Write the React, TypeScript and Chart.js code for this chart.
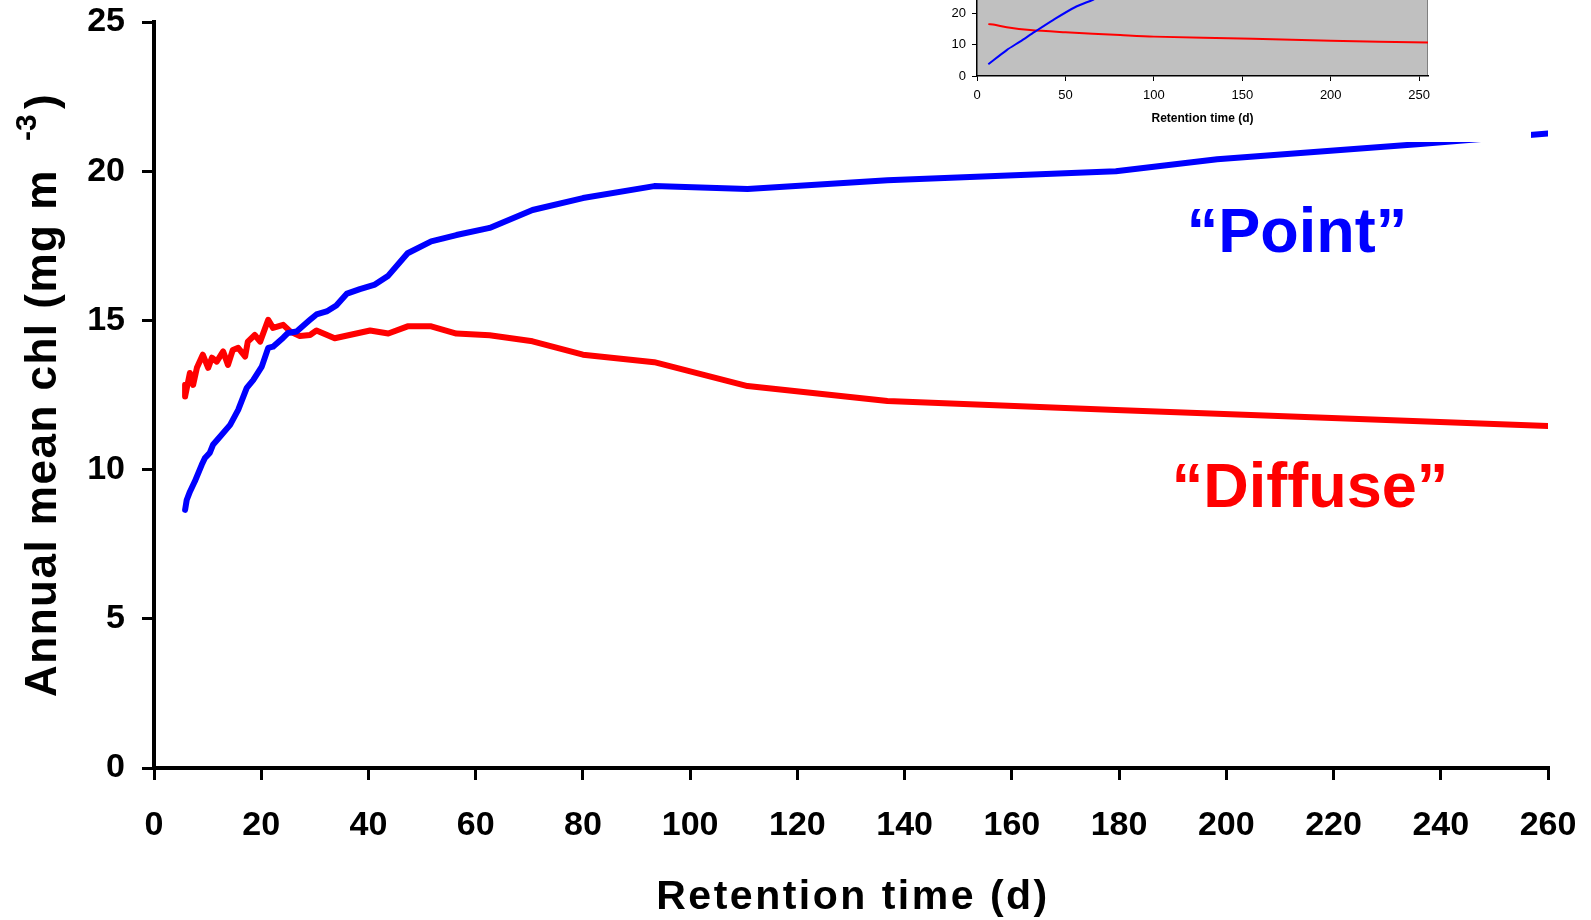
import React, { useEffect, useRef } from 'react';
import { Chart, registerables } from 'chart.js';

Chart.register(...registerables);

const FONT = "'Liberation Sans', Arial, Helvetica, sans-serif";

// ---- Main chart data ----
const pointDays = [5.8, 6.1, 6.7, 7.6, 8.9, 9.5, 10.4, 11.0, 12.3, 14.2, 15.7, 17.3, 18.5, 20.1, 21.3, 22.2, 24.1, 25.0, 26.6, 29.1, 30.3, 32.2, 34.0, 36.0, 38.4, 41.2, 43.7, 47.3, 51.7, 56.4, 62.6, 70.6, 80.0, 93.3, 110.7, 136.8, 179.4, 198.3, 235.6, 260];
const pointChl = [8.65, 8.98, 9.26, 9.6, 10.16, 10.39, 10.56, 10.83, 11.1, 11.5, 12.0, 12.74, 13.0, 13.45, 14.08, 14.12, 14.42, 14.58, 14.63, 15.02, 15.2, 15.3, 15.5, 15.9, 16.05, 16.2, 16.5, 17.25, 17.65, 17.86, 18.1, 18.7, 19.1, 19.5, 19.4, 19.7, 20.0, 20.4, 20.9, 21.26];

const diffuseDays = [5.8, 5.8, 6.7, 7.3, 8.0, 9.1, 10.1, 10.8, 11.7, 12.9, 13.8, 14.7, 15.7, 17.0, 17.5, 18.8, 19.8, 21.3, 22.2, 24.1, 25.4, 27.2, 29.1, 30.3, 33.7, 40.3, 43.7, 47.3, 51.7, 56.4, 62.6, 70.6, 80.0, 93.3, 110.7, 136.8, 179.4, 260];
const diffuseChl = [12.84, 12.45, 13.24, 12.84, 13.41, 13.85, 13.41, 13.75, 13.62, 13.96, 13.51, 14.01, 14.08, 13.79, 14.29, 14.51, 14.29, 15.02, 14.75, 14.85, 14.63, 14.48, 14.51, 14.66, 14.4, 14.66, 14.56, 14.8, 14.8, 14.56, 14.5, 14.3, 13.85, 13.6, 12.8, 12.3, 12.0, 11.46];

const mainXTicks = [0, 20, 40, 60, 80, 100, 120, 140, 160, 180, 200, 220, 240, 260];
const mainYTicks = [0, 5, 10, 15, 20, 25];

// ---- Inset chart data ----
const insetPointDays = [6.4, 16.8, 24.3, 32.8, 43, 55.4, 65.6, 70];
const insetPointChl = [3.75, 8.3, 11.0, 14.2, 17.9, 22.0, 24.4, 25.6];
const insetDiffuseDays = [6.4, 10, 16.8, 30, 50, 81, 100, 156, 200, 255];
const insetDiffuseChl = [16.6, 16.4, 15.6, 14.7, 14.0, 13.1, 12.6, 11.9, 11.3, 10.7];

const insetXTicks = [0, 50, 100, 150, 200, 250];
const insetYTicks = [0, 10, 20, 30, 40];

// ---- Texts ----
const xTitle = 'Retention time (d)';
const yTitleMain = 'Annual mean chl (mg m';
const yTitleSup = '-3';
const yTitleEnd = ')';
const pointLabel = '\u201CPoint\u201D';
const diffuseLabel = '\u201CDiffuse\u201D';
const insetXTitle = 'Retention time (d)';

const BLUE = '#0000ff';
const RED = '#ff0000';

const toXY = (xs: number[], ys: number[]) => xs.map((x, i) => ({ x, y: ys[i] }));

const mainTextPlugin = {
  id: 'mainText',
  afterDraw(chart: any) {
    const ctx = chart.ctx as CanvasRenderingContext2D;
    const xs = chart.scales.x;
    const ys = chart.scales.y;
    ctx.save();
    ctx.fillStyle = '#000';
    // X title
    ctx.font = `bold 41px ${FONT}`;
    (ctx as any).letterSpacing = '2.5px';
    ctx.textAlign = 'center';
    ctx.textBaseline = 'alphabetic';
    ctx.fillText(xTitle, 853, 909);
    // Y title
    ctx.save();
    ctx.translate(56, 697);
    ctx.rotate(-Math.PI / 2);
    ctx.textAlign = 'left';
    ctx.font = `bold 44px ${FONT}`;
    (ctx as any).letterSpacing = '1.5px';
    ctx.fillText(yTitleMain, 0, 0);
    (ctx as any).letterSpacing = '0px';
    ctx.font = `bold 30px ${FONT}`;
    ctx.fillText(yTitleSup, 556, -20);
    ctx.font = `bold 44px ${FONT}`;
    ctx.fillText(yTitleEnd, 588, 0);
    ctx.restore();
    // Annotations
    (ctx as any).letterSpacing = '0px';
    ctx.font = `bold 63px ${FONT}`;
    ctx.textAlign = 'center';
    ctx.fillStyle = BLUE;
    ctx.fillText(pointLabel, xs.getPixelForValue(213.2), ys.getPixelForValue(17.3));
    ctx.fillStyle = RED;
    ctx.fillText(diffuseLabel, xs.getPixelForValue(215.6), ys.getPixelForValue(8.75));
    ctx.restore();
  },
};

const insetBgPlugin = {
  id: 'insetBg',
  beforeDraw(chart: any) {
    const { ctx, chartArea } = chart;
    ctx.save();
    ctx.fillStyle = '#c0c0c0';
    ctx.fillRect(chartArea.left, chartArea.top, chartArea.right - chartArea.left, chartArea.bottom - chartArea.top);
    ctx.strokeStyle = '#808080';
    ctx.lineWidth = 1;
    ctx.beginPath();
    ctx.moveTo(chartArea.right - 0.5, chartArea.top);
    ctx.lineTo(chartArea.right - 0.5, chartArea.bottom);
    ctx.stroke();
    ctx.restore();
  },
};

const zeroPad = (s: any) => {
  s.paddingTop = 0;
  s.paddingBottom = 0;
  s.paddingLeft = 0;
  s.paddingRight = 0;
};

export default function App() {
  const mainRef = useRef<HTMLCanvasElement>(null);
  const insetRef = useRef<HTMLCanvasElement>(null);

  useEffect(() => {
    const tickFont = { family: FONT, size: 34, weight: 'bold' as const };
    const main = new Chart(mainRef.current!, {
      type: 'line',
      data: {
        datasets: [
          {
            label: 'Point',
            data: toXY(pointDays, pointChl),
            borderColor: BLUE,
            borderWidth: 6,
            pointRadius: 0,
            tension: 0,
            borderCapStyle: 'round',
            borderJoinStyle: 'round',
            fill: false,
          },
          {
            label: 'Diffuse',
            data: toXY(diffuseDays, diffuseChl),
            borderColor: RED,
            borderWidth: 6,
            pointRadius: 0,
            tension: 0,
            borderCapStyle: 'round',
            borderJoinStyle: 'round',
            fill: false,
          },
        ],
      },
      options: {
        animation: false,
        responsive: false,
        devicePixelRatio: 1,
        layout: { padding: { top: 22, right: 43, left: 0, bottom: 0 } },
        plugins: { legend: { display: false }, tooltip: { enabled: false } },
        scales: {
          x: {
            type: 'linear',
            min: 0,
            max: 260,
            afterBuildTicks: (s: any) => { s.ticks = mainXTicks.map((v) => ({ value: v })); },
            afterFit: (s: any) => { s.height = 152; zeroPad(s); },
            ticks: { font: tickFont, color: '#000', padding: 25, maxRotation: 0, autoSkip: false },
            grid: { drawOnChartArea: false, drawTicks: true, tickLength: 12, color: '#000', lineWidth: 3 },
            border: { color: '#000', width: 4 },
          },
          y: {
            type: 'linear',
            min: 0,
            max: 25,
            afterBuildTicks: (s: any) => { s.ticks = mainYTicks.map((v) => ({ value: v })); },
            afterFit: (s: any) => { s.width = 154; zeroPad(s); },
            ticks: { font: tickFont, color: '#000', padding: 17, autoSkip: false },
            grid: { drawOnChartArea: false, drawTicks: true, tickLength: 12, color: '#000', lineWidth: 3 },
            border: { color: '#000', width: 4 },
          },
        },
      },
      plugins: [mainTextPlugin],
    } as any);

    const insetTick = { family: FONT, size: 13 };
    const inset = new Chart(insetRef.current!, {
      type: 'line',
      data: {
        datasets: [
          {
            label: 'Point',
            data: toXY(insetPointDays, insetPointChl),
            borderColor: BLUE,
            borderWidth: 2,
            pointRadius: 0,
            tension: 0.3,
            fill: false,
          },
          {
            label: 'Diffuse',
            data: toXY(insetDiffuseDays, insetDiffuseChl),
            borderColor: RED,
            borderWidth: 2,
            pointRadius: 0,
            tension: 0.3,
            fill: false,
          },
        ],
      },
      options: {
        animation: false,
        responsive: false,
        devicePixelRatio: 1,
        layout: { padding: { top: 51, right: 103, left: 0, bottom: 0 } },
        plugins: { legend: { display: false }, tooltip: { enabled: false } },
        scales: {
          x: {
            type: 'linear',
            min: 0,
            max: 255,
            afterBuildTicks: (s: any) => { s.ticks = insetXTicks.map((v) => ({ value: v })); },
            afterFit: (s: any) => { s.height = 66; },
            ticks: { font: insetTick, color: '#000', padding: 7, maxRotation: 0, autoSkip: false },
            grid: { drawOnChartArea: false, drawTicks: true, tickLength: 5, color: '#000', lineWidth: 1 },
            border: { color: '#000', width: 1.5 },
            title: {
              display: true,
              text: insetXTitle,
              color: '#000',
              font: { family: FONT, size: 12, weight: 'bold' },
              padding: { top: 4, bottom: 16 },
            },
          },
          y: {
            type: 'linear',
            min: 0,
            max: 40,
            afterBuildTicks: (s: any) => { s.ticks = insetYTicks.map((v) => ({ value: v })); },
            afterFit: (s: any) => { s.width = 77; },
            ticks: { font: insetTick, color: '#000', padding: 6, autoSkip: false },
            grid: { drawOnChartArea: false, drawTicks: true, tickLength: 5, color: '#000', lineWidth: 1 },
            border: { color: '#000', width: 1.5 },
          },
        },
      },
      plugins: [insetBgPlugin],
    } as any);

    return () => {
      main.destroy();
      inset.destroy();
    };
  }, []);

  return (
    <div style={{ position: 'absolute', left: 0, top: 0, width: 1591, height: 920, overflow: 'hidden', background: '#fff' }}>
      <canvas ref={mainRef} width={1591} height={920} style={{ position: 'absolute', left: 0, top: 0, width: 1591, height: 920 }} />
      <canvas ref={insetRef} width={631} height={242} style={{ position: 'absolute', left: 900, top: -100, width: 631, height: 242, background: '#fff' }} />
    </div>
  );
}
